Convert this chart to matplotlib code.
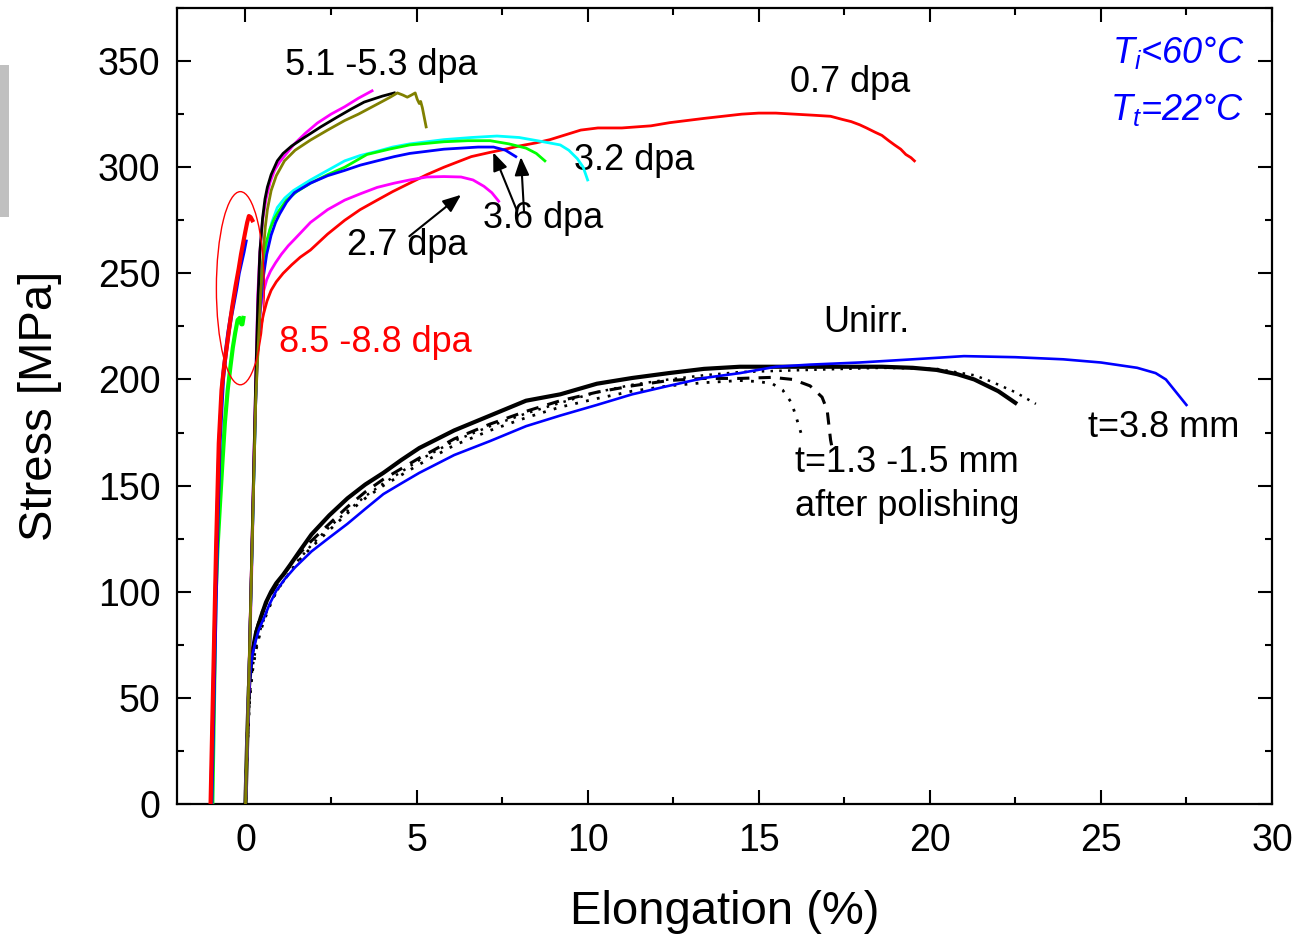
import matplotlib
matplotlib.use("Agg")
import matplotlib.pyplot as plt
from matplotlib.patches import Ellipse, Rectangle

plt.rcParams['font.family'] = ['Liberation Sans', 'DejaVu Sans']
plt.rcParams['mathtext.fontset'] = 'custom'
plt.rcParams['mathtext.rm'] = 'Liberation Sans'
plt.rcParams['mathtext.it'] = 'Liberation Sans:italic'

# ---- Unirradiated specimens -------------------------------------------
unirr_38_x = [0, 0.05, 0.1, 0.15, 0.2, 0.3, 0.4, 0.55, 0.7, 0.9, 1.15, 1.45, 1.93, 2.45,
              2.98, 3.5, 4.03, 4.55, 5.08, 6.1, 7.15, 8.2, 9.2, 10.27, 11.3, 12.37, 13.4,
              14.45, 15.5, 16.5, 17.95, 19.5, 21.0, 22.5, 23.9, 25.0, 26.06, 26.6, 26.9,
              27.2, 27.5]
unirr_38_y = [0, 30, 52, 63, 70, 77, 82.5, 88, 94, 100.5, 106, 111.5, 119, 125.5,
              132, 139, 146, 151, 156, 164.4, 171, 178, 183, 188, 193, 197, 200.7,
              203, 206, 207, 208, 209.5, 211, 210.5, 209.5, 208, 205.5, 203, 200,
              194, 188]

unirr_a_x = [0, 0.05, 0.1, 0.18, 0.3, 0.45, 0.6, 0.75, 0.9, 1.1, 1.3, 1.6, 1.93, 2.45,
             2.98, 3.5, 4.03, 4.55, 5.08, 6.1, 7.15, 8.2, 9.2, 10.27, 11.3, 12.37, 13.4,
             14.45, 16.45, 18.6, 19.5, 20.2, 20.8, 21.3, 22.0, 22.5]
unirr_a_y = [0, 30, 55, 70, 80, 88, 95, 100, 104, 108, 112.5, 119.5, 127, 136,
             144, 150.5, 156, 162, 167.7, 176, 183, 190, 193, 198, 200.7, 203, 205,
             206, 206, 206, 205.5, 204.5, 202.5, 200, 194.5, 189]

unirr_b_x = [0, 0.05, 0.12, 0.2, 0.3, 0.45, 0.65, 0.9, 1.2, 1.55, 1.93, 2.45, 2.98, 3.5,
             4.03, 5.08, 6.1, 7.15, 8.2, 9.2, 10.27, 11.3, 12.37, 13.4, 14.45, 16.45,
             18.6, 20.2, 21.3, 21.8, 22.5, 23.1]
unirr_b_y = [0, 25, 50, 64, 73, 83, 92, 100, 107, 115, 122, 130.5, 138, 145,
             151, 162, 171, 178, 184, 189, 194, 197.5, 200, 202, 203.5, 204.5,
             205.5, 205, 202, 199, 194, 188.5]

unirr_c_x = [0, 0.05, 0.12, 0.2, 0.3, 0.45, 0.65, 0.9, 1.2, 1.55, 1.93, 2.45, 2.98,
             3.5, 4.03, 5.08, 6.1, 7.15, 8.2, 9.2, 10.27, 11.3, 12.37, 13.4, 14.45,
             15.4, 16.0, 16.5, 16.85, 17.0, 17.1, 17.13]
unirr_c_y = [0, 30, 58, 72, 81, 89, 96, 103, 110, 117.5, 124, 132, 140,
             147, 153, 163, 172, 179, 185, 190, 194, 197, 199.5, 200.5, 200.5,
             201, 200, 197, 191.7, 185.6, 171.5, 169]

unirr_d_x = [0, 0.05, 0.12, 0.2, 0.3, 0.45, 0.65, 0.9, 1.2, 1.55, 1.93, 2.45, 2.98,
             3.5, 4.03, 5.08, 6.1, 7.15, 8.2, 9.2, 10.27, 11.3, 12.37, 13.4, 14.45,
             15.0, 15.4, 15.7, 15.96, 16.1, 16.25, 16.3]
unirr_d_y = [0, 25, 48, 62, 72, 82, 91, 100, 107, 114.5, 121, 129, 137,
             144, 150, 160, 169, 176, 182, 187, 191, 194.5, 197, 198.5, 199.5,
             199, 198, 195, 189, 182, 174, 172]

# ---- 0.7 dpa -------------------------------------------------------------
d07_x = [0, 0.1, 0.2, 0.28, 0.33, 0.38, 0.45, 0.53, 0.63, 0.75, 0.9, 1.1, 1.35, 1.6,
         1.9, 2.4, 2.9, 3.35, 3.85, 4.3, 4.8, 5.3, 5.8, 6.2, 6.6, 7.15, 7.6, 8.0, 8.5,
         8.9, 9.4, 9.8, 10.3, 11.0, 11.85, 12.4, 12.9, 13.4, 13.95, 14.5, 15.0, 15.5,
         16.05, 16.6, 17.1, 17.45, 17.7, 17.95, 18.15, 18.4, 18.6, 18.8, 18.97, 19.15,
         19.3, 19.45, 19.55]
d07_y = [0, 62, 128, 180, 205, 217, 225, 231, 237, 242, 246, 250, 254, 257.6,
         261, 268.5, 275, 280, 284.5, 288.5, 292.5, 296.5, 300, 302.5, 305, 307, 308.5,
         310, 311.5, 313, 315.5, 317.5, 318.5, 318.5, 319.5, 321, 322, 323, 324, 325,
         325.5, 325.5, 325, 324.5, 324, 322.5, 321.5, 320, 318.5, 316.5, 315, 312.5,
         310.5, 308.5, 306, 304.5, 303]

# ---- 2.7 dpa -------------------------------------------------------------
d27_x = [0, 0.1, 0.2, 0.26, 0.31, 0.36, 0.43, 0.52, 0.62, 0.73, 0.88, 1.05, 1.25, 1.43,
         1.9, 2.4, 2.9, 3.36, 3.85, 4.35, 4.8, 5.3, 5.8, 6.3, 6.65, 6.97, 7.2, 7.4]
d27_y = [0, 55, 120, 170, 200, 218, 232, 241, 247, 251, 255, 259, 263, 266,
         274, 280, 284.5, 287.5, 290.5, 292.5, 294, 295.4, 295.6, 295.4, 294, 291,
         288, 284]

# ---- 3.2 dpa -------------------------------------------------------------
d32_x = [0, 0.1, 0.2, 0.3, 0.35, 0.4, 0.47, 0.55, 0.65, 0.77, 0.93, 1.15, 1.4, 1.9, 2.4,
         2.9, 3.35, 3.85, 4.3, 4.8, 5.3, 5.8, 6.6, 7.35, 8.0, 8.7, 9.2, 9.45, 9.7,
         9.87, 10.0]
d32_y = [0, 60, 125, 190, 215, 232, 248, 258, 266, 274, 281, 285.5, 289, 294, 298.5,
         303, 305.5, 307.5, 309.5, 311, 312, 313, 314, 314.7, 314, 312, 310.5, 308, 304,
         300, 294]

# ---- 3.6 dpa (two specimens) -----------------------------------------------
d36g_x = [0, 0.1, 0.2, 0.3, 0.35, 0.42, 0.5, 0.6, 0.72, 0.85, 1.0, 1.2, 1.5, 1.9, 2.4,
          2.9, 3.55, 4.2, 4.8, 5.8, 6.5, 7.15, 7.7, 8.2, 8.5, 8.75]
d36g_y = [0, 60, 125, 195, 222, 242, 255, 264, 271, 276, 280, 284.5, 288.5, 292.5,
          296.5, 300, 306, 308.5, 310.5, 312, 312.5, 312.5, 311, 309, 306.5, 303]

d36b_x = [0, 0.1, 0.2, 0.3, 0.36, 0.43, 0.52, 0.62, 0.75, 0.88, 1.0, 1.2, 1.43, 1.9,
          2.4, 2.9, 3.36, 3.85, 4.35, 4.8, 5.3, 5.8, 6.3, 6.8, 7.25, 7.6, 7.9]
d36b_y = [0, 60, 125, 190, 215, 233, 248, 259, 268, 274, 278, 283.5, 288, 292.5,
          296, 298.5, 301, 303, 305, 306.5, 307.5, 308.5, 309, 309.5, 309.5, 308, 305]

# ---- 5.1 - 5.3 dpa ---------------------------------------------------------
d51m_x = [0, 0.1, 0.2, 0.3, 0.36, 0.42, 0.5, 0.6, 0.72, 0.85, 1.0, 1.2, 1.43, 1.75, 2.1,
          2.5, 2.9, 3.3, 3.7]
d51m_y = [0, 60, 130, 200, 240, 260, 275, 285, 293, 298.6, 302.5, 306.5, 311, 316,
          320.8, 325, 328.5, 332.5, 336]

d51k_x = [0, 0.1, 0.2, 0.3, 0.36, 0.42, 0.5, 0.57, 0.64, 0.75, 0.93, 1.1, 1.35, 1.72,
          2.2, 2.68, 3.1, 3.47, 4.0, 4.35]
d51k_y = [0, 60, 130, 200, 235, 260, 276, 285, 290.6, 296.5, 303, 306.5, 310, 314,
          319, 323.6, 327.5, 330.7, 333.5, 335]

d51o_x = [0, 0.1, 0.2, 0.3, 0.37, 0.44, 0.52, 0.58, 0.64, 0.75, 0.9, 1.14, 1.45, 1.9,
          2.4, 2.9, 3.3, 3.65, 4.0, 4.23, 4.44, 4.6, 4.73, 4.85, 4.96, 5.02, 5.08, 5.12,
          5.17, 5.28]
d51o_y = [0, 60, 125, 190, 215, 238, 260, 272, 280, 289, 296, 303, 308, 312.8,
          317.5, 322, 325, 328, 331, 333, 335, 334, 333, 334, 335, 332, 330, 331,
          328, 319]

# ---- 8.5 - 8.8 dpa ---------------------------------------------------------
d85r_x = [-1.02, -0.94, -0.86, -0.78, -0.7, -0.62, -0.55, -0.46, -0.38, -0.29, -0.2,
          -0.13, -0.06, 0.0, 0.05, 0.1, 0.15, 0.2]
d85r_y = [0, 60, 120, 170, 195, 207, 215, 226, 235, 244, 252, 259, 265, 270, 274,
          277, 276.5, 275]

d85b_x = [-1.0, -0.92, -0.84, -0.76, -0.66, -0.58, -0.5, -0.42, -0.35, -0.27, -0.2,
          -0.13, -0.06, 0.0]
d85b_y = [0, 60, 120, 170, 200, 212, 222, 230, 236, 243, 250, 255, 260, 265]

d85g_x = [-0.97, -0.92, -0.88, -0.82, -0.75, -0.67, -0.6, -0.52, -0.44, -0.37, -0.3,
          -0.23, -0.17, -0.12, -0.09, -0.06]
d85g_y = [0, 50, 96, 120, 140, 162, 180, 195, 206, 215, 222, 228, 229, 226, 226, 229]

x_ticks = [0, 5, 10, 15, 20, 25, 30]
y_ticks = [0, 50, 100, 150, 200, 250, 300, 350]

fig = plt.figure(figsize=(12.97, 9.34), dpi=100)
ax = fig.add_axes([0.1365, 0.1392, 0.8442, 0.8522])

# unirradiated
ax.plot(unirr_b_x, unirr_b_y, color='black', lw=1.8, ls=(0, (1, 2.5)), zorder=2)
ax.plot(unirr_d_x, unirr_d_y, color='black', lw=2.0, ls=(0, (1, 3)), zorder=2)
ax.plot(unirr_c_x, unirr_c_y, color='black', lw=2.2, ls=(0, (4, 3)), zorder=2)
ax.plot(unirr_a_x, unirr_a_y, color='black', lw=3.0, zorder=3)
ax.plot(unirr_38_x, unirr_38_y, color='#0000ff', lw=1.9, zorder=4)

# irradiated
lw_irr = 2.0
ax.plot(d07_x, d07_y, color='#ff0000', lw=lw_irr, zorder=5)
ax.plot(d27_x, d27_y, color='#ff00ff', lw=lw_irr, zorder=5)
ax.plot(d32_x, d32_y, color='#00ffff', lw=lw_irr, zorder=5)
ax.plot(d36g_x, d36g_y, color='#00ff00', lw=lw_irr, zorder=5)
ax.plot(d36b_x, d36b_y, color='#0000ff', lw=lw_irr, zorder=5)
ax.plot(d51m_x, d51m_y, color='#ff00ff', lw=lw_irr, zorder=5)
ax.plot(d51k_x, d51k_y, color='black', lw=lw_irr, zorder=5)
ax.plot(d51o_x, d51o_y, color='#808000', lw=lw_irr, zorder=6)

ax.plot(d85g_x, d85g_y, color='#00ff00', lw=3.0, zorder=6)
ax.plot(d85b_x, d85b_y, color='#0000ff', lw=3.0, zorder=6)
ax.plot(d85r_x, d85r_y, color='#ff0000', lw=3.0, zorder=7)

ax.add_patch(Ellipse((-0.15, 243), 1.4, 91, fill=False, edgecolor='#ff0000', lw=1.0, zorder=8))

ax.set_xticks(x_ticks)
ax.set_yticks(y_ticks)
ax.set_xticks([x + 2.5 for x in x_ticks[:-1]] + [-2.5], minor=True)
ax.set_yticks([y + 25 for y in y_ticks], minor=True)
ax.set_xlim(-2, 30)
ax.set_ylim(0, 375)

ax.tick_params(which='both', direction='in', top=True, right=True, width=1.5,
               labelsize=27)
ax.tick_params(which='major', length=10)
ax.tick_params(which='minor', length=5)
ax.tick_params(axis='x', which='major', pad=14)
ax.tick_params(axis='y', which='major', pad=12)
for sp in ax.spines.values():
    sp.set_linewidth(1.6)

ax.set_xlabel('Elongation (%)', fontsize=34, labelpad=22)
ax.set_ylabel('Stress [MPa]', fontsize=34, labelpad=26)

fs = 26
ax.text(3.97, 348, '5.1 -5.3 dpa', fontsize=fs, ha='center', va='center')
ax.text(17.68, 340, '0.7 dpa', fontsize=fs, ha='center', va='center')
ax.text(11.35, 303.4, '3.2 dpa', fontsize=fs, ha='center', va='center')
ax.text(8.7, 276, '3.6 dpa', fontsize=fs, ha='center', va='center')
ax.text(4.73, 263, '2.7 dpa', fontsize=fs, ha='center', va='center')
ax.text(3.79, 217.6, '8.5 -8.8 dpa', fontsize=fs, ha='center', va='center', color='#ff0000')
ax.text(18.15, 227, 'Unirr.', fontsize=fs, ha='center', va='center')
ax.text(26.85, 177.6, 't=3.8 mm', fontsize=fs, ha='center', va='center')
ax.text(16.05, 161, 't=1.3 -1.5 mm', fontsize=fs, ha='left', va='center')
ax.text(16.05, 140, 'after polishing', fontsize=fs, ha='left', va='center')

ax.text(29.2, 354, r'$T_i$<60°C', fontsize=fs, ha='right', va='center',
        color='#0000ff', fontstyle='italic')
ax.text(29.2, 327, r'$T_t$=22°C', fontsize=fs, ha='right', va='center',
        color='#0000ff', fontstyle='italic')

arrow_kw = dict(arrowstyle='-|>,head_length=0.55,head_width=0.22', color='black',
                lw=1.5, shrinkA=0, shrinkB=0, mutation_scale=20)
ax.annotate('', xy=(6.3, 287), xytext=(4.79, 267.5), arrowprops=arrow_kw)
ax.annotate('', xy=(7.24, 307), xytext=(7.94, 279.3), arrowprops=arrow_kw)
ax.annotate('', xy=(8.05, 304.8), xytext=(8.14, 279.3), arrowprops=arrow_kw)

fig.patches.append(Rectangle((0, 0.7677), 9 / 1297, 0.1627, transform=fig.transFigure,
                             facecolor='#c0c0c0', edgecolor='none'))

fig.savefig('out.png', dpi=100)
